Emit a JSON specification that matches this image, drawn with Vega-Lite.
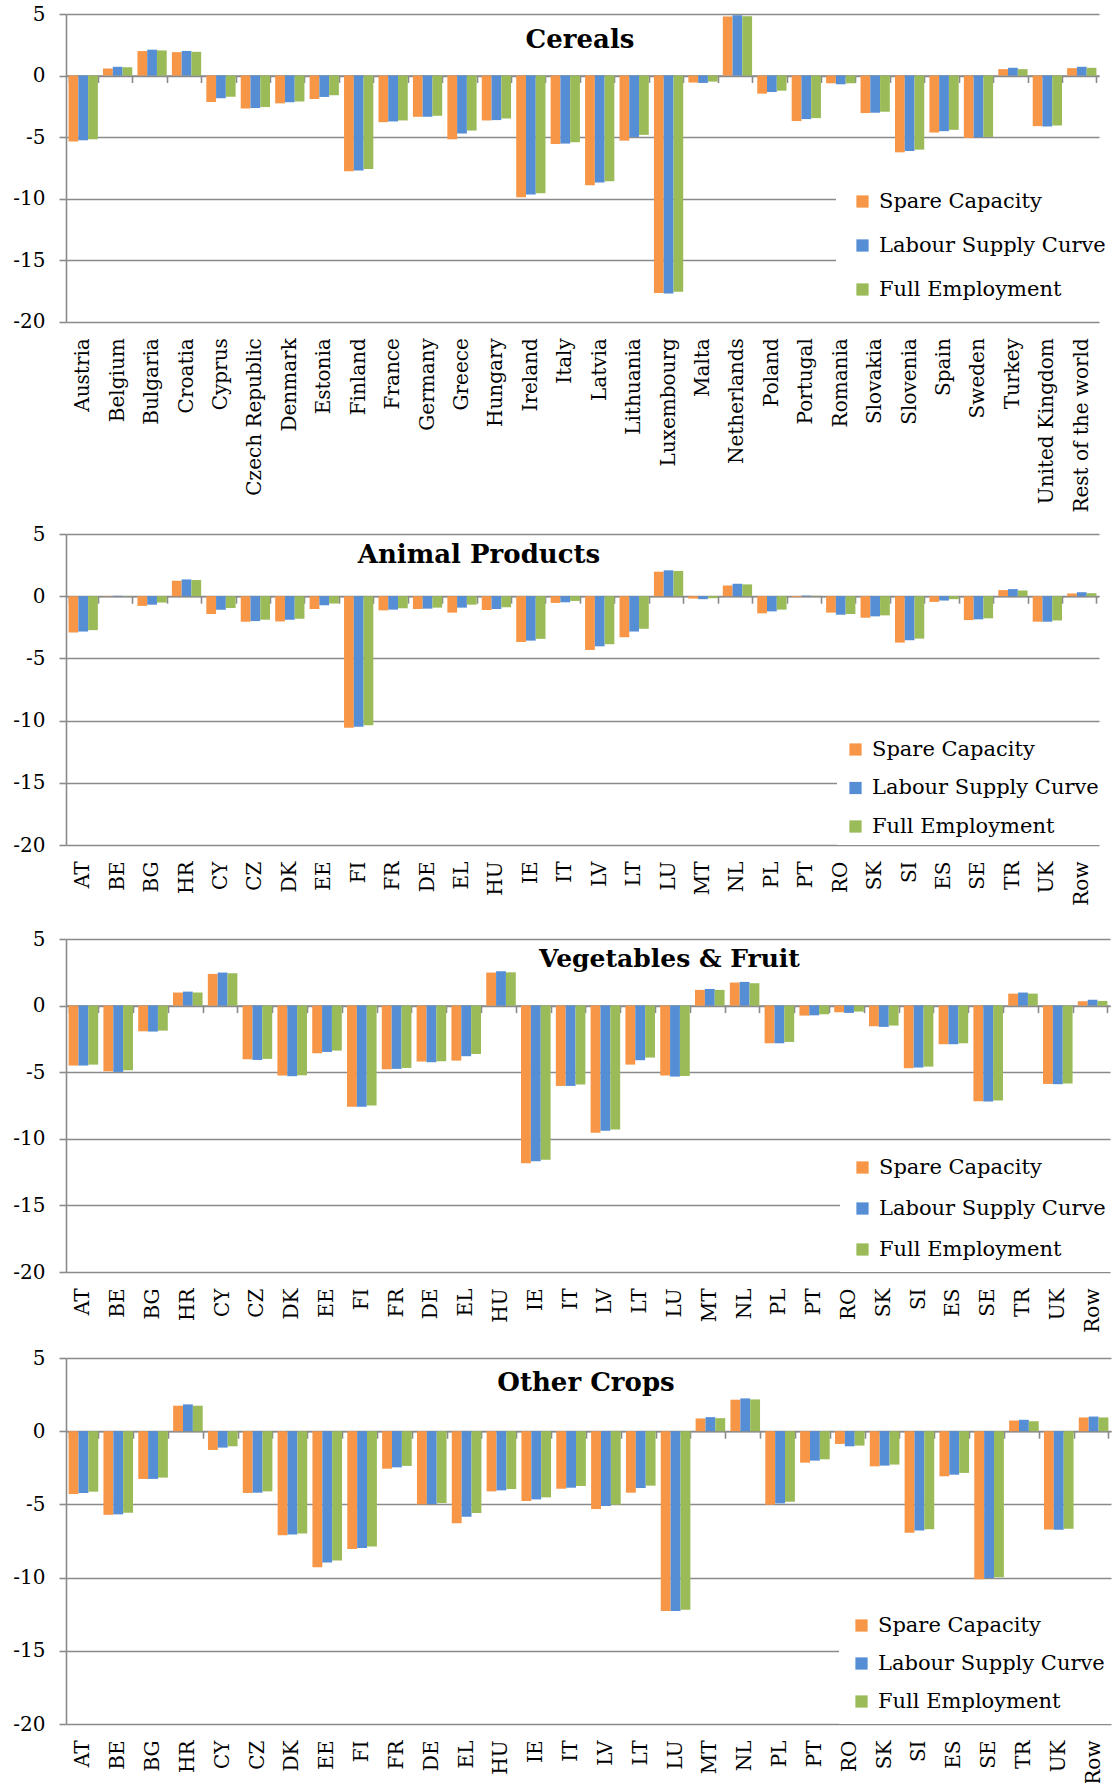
{
"$schema": "https://vega.github.io/schema/vega-lite/v6.json",
"background": "white",
"padding": {"left": 12, "top": 4, "right": 5, "bottom": 0},
"config": {
 "view": {"stroke": null},
 "font": "DejaVu Serif",
 "axis": {"labelFont": "DejaVu Serif", "labelColor": "black", "titleFont": "DejaVu Serif", "titleColor": "black"},
 "axisY": {"title": null, "grid": true, "gridColor": "#8a8a8a", "gridWidth": 1.6, "domain": true, "domainColor": "#8a8a8a", "domainWidth": 1.6, "ticks": true, "tickColor": "#8a8a8a", "tickWidth": 1.6, "tickSize": 7, "labelPadding": 14, "labelFontSize": 20},
 "legend": {"orient": "none", "direction": "vertical", "title": null, "fillColor": "white", "symbolType": "square", "symbolSize": 150, "symbolStrokeWidth": 0, "labelFontSize": 21, "labelOffset": 6, "labelFont": "DejaVu Serif", "labelColor": "black", "labelLimit": 400}
},
"datasets": {
"cereals": [
{"c":"Austria","s":"Spare Capacity","v":-5.35},{"c":"Austria","s":"Labour Supply Curve","v":-5.26},{"c":"Austria","s":"Full Employment","v":-5.18},
{"c":"Belgium","s":"Spare Capacity","v":0.57},{"c":"Belgium","s":"Labour Supply Curve","v":0.71},{"c":"Belgium","s":"Full Employment","v":0.68},
{"c":"Bulgaria","s":"Spare Capacity","v":1.99},{"c":"Bulgaria","s":"Labour Supply Curve","v":2.1},{"c":"Bulgaria","s":"Full Employment","v":2.04},
{"c":"Croatia","s":"Spare Capacity","v":1.9},{"c":"Croatia","s":"Labour Supply Curve","v":2.0},{"c":"Croatia","s":"Full Employment","v":1.93},
{"c":"Cyprus","s":"Spare Capacity","v":-2.15},{"c":"Cyprus","s":"Labour Supply Curve","v":-1.85},{"c":"Cyprus","s":"Full Employment","v":-1.72},
{"c":"Czech Republic","s":"Spare Capacity","v":-2.67},{"c":"Czech Republic","s":"Labour Supply Curve","v":-2.64},{"c":"Czech Republic","s":"Full Employment","v":-2.56},
{"c":"Denmark","s":"Spare Capacity","v":-2.26},{"c":"Denmark","s":"Labour Supply Curve","v":-2.18},{"c":"Denmark","s":"Full Employment","v":-2.1},
{"c":"Estonia","s":"Spare Capacity","v":-1.9},{"c":"Estonia","s":"Labour Supply Curve","v":-1.74},{"c":"Estonia","s":"Full Employment","v":-1.6},
{"c":"Finland","s":"Spare Capacity","v":-7.77},{"c":"Finland","s":"Labour Supply Curve","v":-7.71},{"c":"Finland","s":"Full Employment","v":-7.6},
{"c":"France","s":"Spare Capacity","v":-3.79},{"c":"France","s":"Labour Supply Curve","v":-3.73},{"c":"France","s":"Full Employment","v":-3.65},
{"c":"Germany","s":"Spare Capacity","v":-3.35},{"c":"Germany","s":"Labour Supply Curve","v":-3.35},{"c":"Germany","s":"Full Employment","v":-3.27},
{"c":"Greece","s":"Spare Capacity","v":-5.18},{"c":"Greece","s":"Labour Supply Curve","v":-4.71},{"c":"Greece","s":"Full Employment","v":-4.47},
{"c":"Hungary","s":"Spare Capacity","v":-3.65},{"c":"Hungary","s":"Labour Supply Curve","v":-3.62},{"c":"Hungary","s":"Full Employment","v":-3.49},
{"c":"Ireland","s":"Spare Capacity","v":-9.89},{"c":"Ireland","s":"Labour Supply Curve","v":-9.67},{"c":"Ireland","s":"Full Employment","v":-9.56},
{"c":"Italy","s":"Spare Capacity","v":-5.56},{"c":"Italy","s":"Labour Supply Curve","v":-5.53},{"c":"Italy","s":"Full Employment","v":-5.42},
{"c":"Latvia","s":"Spare Capacity","v":-8.91},{"c":"Latvia","s":"Labour Supply Curve","v":-8.69},{"c":"Latvia","s":"Full Employment","v":-8.58},
{"c":"Lithuania","s":"Spare Capacity","v":-5.29},{"c":"Lithuania","s":"Labour Supply Curve","v":-4.99},{"c":"Lithuania","s":"Full Employment","v":-4.82},
{"c":"Luxembourg","s":"Spare Capacity","v":-17.66},{"c":"Luxembourg","s":"Labour Supply Curve","v":-17.71},{"c":"Luxembourg","s":"Full Employment","v":-17.57},
{"c":"Malta","s":"Spare Capacity","v":-0.57},{"c":"Malta","s":"Labour Supply Curve","v":-0.6},{"c":"Malta","s":"Full Employment","v":-0.49},
{"c":"Netherlands","s":"Spare Capacity","v":4.8},{"c":"Netherlands","s":"Labour Supply Curve","v":4.9},{"c":"Netherlands","s":"Full Employment","v":4.82},
{"c":"Poland","s":"Spare Capacity","v":-1.47},{"c":"Poland","s":"Labour Supply Curve","v":-1.34},{"c":"Poland","s":"Full Employment","v":-1.23},
{"c":"Portugal","s":"Spare Capacity","v":-3.7},{"c":"Portugal","s":"Labour Supply Curve","v":-3.54},{"c":"Portugal","s":"Full Employment","v":-3.46},
{"c":"Romania","s":"Spare Capacity","v":-0.63},{"c":"Romania","s":"Labour Supply Curve","v":-0.71},{"c":"Romania","s":"Full Employment","v":-0.63},
{"c":"Slovakia","s":"Spare Capacity","v":-3.05},{"c":"Slovakia","s":"Labour Supply Curve","v":-3.02},{"c":"Slovakia","s":"Full Employment","v":-2.94},
{"c":"Slovenia","s":"Spare Capacity","v":-6.24},{"c":"Slovenia","s":"Labour Supply Curve","v":-6.13},{"c":"Slovenia","s":"Full Employment","v":-6.02},
{"c":"Spain","s":"Spare Capacity","v":-4.63},{"c":"Spain","s":"Labour Supply Curve","v":-4.52},{"c":"Spain","s":"Full Employment","v":-4.41},
{"c":"Sweden","s":"Spare Capacity","v":-5.07},{"c":"Sweden","s":"Labour Supply Curve","v":-5.01},{"c":"Sweden","s":"Full Employment","v":-4.99},
{"c":"Turkey","s":"Spare Capacity","v":0.52},{"c":"Turkey","s":"Labour Supply Curve","v":0.63},{"c":"Turkey","s":"Full Employment","v":0.52},
{"c":"United Kingdom","s":"Spare Capacity","v":-4.11},{"c":"United Kingdom","s":"Labour Supply Curve","v":-4.14},{"c":"United Kingdom","s":"Full Employment","v":-4.06},
{"c":"Rest of the world","s":"Spare Capacity","v":0.6},{"c":"Rest of the world","s":"Labour Supply Curve","v":0.71},{"c":"Rest of the world","s":"Full Employment","v":0.63}
],
"animal": [
{"c":"AT","s":"Spare Capacity","v":-2.92},{"c":"AT","s":"Labour Supply Curve","v":-2.84},{"c":"AT","s":"Full Employment","v":-2.73},
{"c":"BE","s":"Spare Capacity","v":-0.02},{"c":"BE","s":"Labour Supply Curve","v":0.03},{"c":"BE","s":"Full Employment","v":-0.02},
{"c":"BG","s":"Spare Capacity","v":-0.78},{"c":"BG","s":"Labour Supply Curve","v":-0.68},{"c":"BG","s":"Full Employment","v":-0.51},
{"c":"HR","s":"Spare Capacity","v":1.24},{"c":"HR","s":"Labour Supply Curve","v":1.35},{"c":"HR","s":"Full Employment","v":1.3},
{"c":"CY","s":"Spare Capacity","v":-1.43},{"c":"CY","s":"Labour Supply Curve","v":-1.08},{"c":"CY","s":"Full Employment","v":-0.95},
{"c":"CZ","s":"Spare Capacity","v":-2.05},{"c":"CZ","s":"Labour Supply Curve","v":-2.0},{"c":"CZ","s":"Full Employment","v":-1.89},
{"c":"DK","s":"Spare Capacity","v":-2.03},{"c":"DK","s":"Labour Supply Curve","v":-1.89},{"c":"DK","s":"Full Employment","v":-1.81},
{"c":"EE","s":"Spare Capacity","v":-1.03},{"c":"EE","s":"Labour Supply Curve","v":-0.73},{"c":"EE","s":"Full Employment","v":-0.59},
{"c":"FI","s":"Spare Capacity","v":-10.57},{"c":"FI","s":"Labour Supply Curve","v":-10.49},{"c":"FI","s":"Full Employment","v":-10.38},
{"c":"FR","s":"Spare Capacity","v":-1.14},{"c":"FR","s":"Labour Supply Curve","v":-1.08},{"c":"FR","s":"Full Employment","v":-0.97},
{"c":"DE","s":"Spare Capacity","v":-1.03},{"c":"DE","s":"Labour Supply Curve","v":-1.0},{"c":"DE","s":"Full Employment","v":-0.92},
{"c":"EL","s":"Spare Capacity","v":-1.32},{"c":"EL","s":"Labour Supply Curve","v":-0.92},{"c":"EL","s":"Full Employment","v":-0.68},
{"c":"HU","s":"Spare Capacity","v":-1.11},{"c":"HU","s":"Labour Supply Curve","v":-1.03},{"c":"HU","s":"Full Employment","v":-0.89},
{"c":"IE","s":"Spare Capacity","v":-3.68},{"c":"IE","s":"Labour Supply Curve","v":-3.57},{"c":"IE","s":"Full Employment","v":-3.43},
{"c":"IT","s":"Spare Capacity","v":-0.54},{"c":"IT","s":"Labour Supply Curve","v":-0.49},{"c":"IT","s":"Full Employment","v":-0.38},
{"c":"LV","s":"Spare Capacity","v":-4.32},{"c":"LV","s":"Labour Supply Curve","v":-4.03},{"c":"LV","s":"Full Employment","v":-3.86},
{"c":"LT","s":"Spare Capacity","v":-3.3},{"c":"LT","s":"Labour Supply Curve","v":-2.84},{"c":"LT","s":"Full Employment","v":-2.62},
{"c":"LU","s":"Spare Capacity","v":1.97},{"c":"LU","s":"Labour Supply Curve","v":2.08},{"c":"LU","s":"Full Employment","v":2.03},
{"c":"MT","s":"Spare Capacity","v":-0.19},{"c":"MT","s":"Labour Supply Curve","v":-0.24},{"c":"MT","s":"Full Employment","v":-0.16},
{"c":"NL","s":"Spare Capacity","v":0.86},{"c":"NL","s":"Labour Supply Curve","v":1.0},{"c":"NL","s":"Full Employment","v":0.95},
{"c":"PL","s":"Spare Capacity","v":-1.38},{"c":"PL","s":"Labour Supply Curve","v":-1.22},{"c":"PL","s":"Full Employment","v":-1.08},
{"c":"PT","s":"Spare Capacity","v":-0.08},{"c":"PT","s":"Labour Supply Curve","v":0.05},{"c":"PT","s":"Full Employment","v":0.03},
{"c":"RO","s":"Spare Capacity","v":-1.32},{"c":"RO","s":"Labour Supply Curve","v":-1.49},{"c":"RO","s":"Full Employment","v":-1.43},
{"c":"SK","s":"Spare Capacity","v":-1.73},{"c":"SK","s":"Labour Supply Curve","v":-1.62},{"c":"SK","s":"Full Employment","v":-1.54},
{"c":"SI","s":"Spare Capacity","v":-3.73},{"c":"SI","s":"Labour Supply Curve","v":-3.54},{"c":"SI","s":"Full Employment","v":-3.41},
{"c":"ES","s":"Spare Capacity","v":-0.46},{"c":"ES","s":"Labour Supply Curve","v":-0.35},{"c":"ES","s":"Full Employment","v":-0.24},
{"c":"SE","s":"Spare Capacity","v":-1.92},{"c":"SE","s":"Labour Supply Curve","v":-1.86},{"c":"SE","s":"Full Employment","v":-1.78},
{"c":"TR","s":"Spare Capacity","v":0.49},{"c":"TR","s":"Labour Supply Curve","v":0.57},{"c":"TR","s":"Full Employment","v":0.46},
{"c":"UK","s":"Spare Capacity","v":-2.05},{"c":"UK","s":"Labour Supply Curve","v":-2.05},{"c":"UK","s":"Full Employment","v":-1.95},
{"c":"Row","s":"Spare Capacity","v":0.22},{"c":"Row","s":"Labour Supply Curve","v":0.32},{"c":"Row","s":"Full Employment","v":0.24}
],
"veg": [
{"c":"AT","s":"Spare Capacity","v":-4.5},{"c":"AT","s":"Labour Supply Curve","v":-4.5},{"c":"AT","s":"Full Employment","v":-4.43},
{"c":"BE","s":"Spare Capacity","v":-4.93},{"c":"BE","s":"Labour Supply Curve","v":-4.98},{"c":"BE","s":"Full Employment","v":-4.85},
{"c":"BG","s":"Spare Capacity","v":-1.93},{"c":"BG","s":"Labour Supply Curve","v":-1.95},{"c":"BG","s":"Full Employment","v":-1.88},
{"c":"HR","s":"Spare Capacity","v":0.98},{"c":"HR","s":"Labour Supply Curve","v":1.05},{"c":"HR","s":"Full Employment","v":0.98},
{"c":"CY","s":"Spare Capacity","v":2.38},{"c":"CY","s":"Labour Supply Curve","v":2.48},{"c":"CY","s":"Full Employment","v":2.43},
{"c":"CZ","s":"Spare Capacity","v":-4.03},{"c":"CZ","s":"Labour Supply Curve","v":-4.08},{"c":"CZ","s":"Full Employment","v":-4.0},
{"c":"DK","s":"Spare Capacity","v":-5.25},{"c":"DK","s":"Labour Supply Curve","v":-5.3},{"c":"DK","s":"Full Employment","v":-5.23},
{"c":"EE","s":"Spare Capacity","v":-3.58},{"c":"EE","s":"Labour Supply Curve","v":-3.48},{"c":"EE","s":"Full Employment","v":-3.38},
{"c":"FI","s":"Spare Capacity","v":-7.6},{"c":"FI","s":"Labour Supply Curve","v":-7.6},{"c":"FI","s":"Full Employment","v":-7.5},
{"c":"FR","s":"Spare Capacity","v":-4.78},{"c":"FR","s":"Labour Supply Curve","v":-4.75},{"c":"FR","s":"Full Employment","v":-4.68},
{"c":"DE","s":"Spare Capacity","v":-4.2},{"c":"DE","s":"Labour Supply Curve","v":-4.25},{"c":"DE","s":"Full Employment","v":-4.18},
{"c":"EL","s":"Spare Capacity","v":-4.13},{"c":"EL","s":"Labour Supply Curve","v":-3.8},{"c":"EL","s":"Full Employment","v":-3.63},
{"c":"HU","s":"Spare Capacity","v":2.48},{"c":"HU","s":"Labour Supply Curve","v":2.58},{"c":"HU","s":"Full Employment","v":2.5},
{"c":"IE","s":"Spare Capacity","v":-11.83},{"c":"IE","s":"Labour Supply Curve","v":-11.68},{"c":"IE","s":"Full Employment","v":-11.58},
{"c":"IT","s":"Spare Capacity","v":-6.03},{"c":"IT","s":"Labour Supply Curve","v":-6.03},{"c":"IT","s":"Full Employment","v":-5.93},
{"c":"LV","s":"Spare Capacity","v":-9.55},{"c":"LV","s":"Labour Supply Curve","v":-9.4},{"c":"LV","s":"Full Employment","v":-9.3},
{"c":"LT","s":"Spare Capacity","v":-4.43},{"c":"LT","s":"Labour Supply Curve","v":-4.1},{"c":"LT","s":"Full Employment","v":-3.9},
{"c":"LU","s":"Spare Capacity","v":-5.25},{"c":"LU","s":"Labour Supply Curve","v":-5.33},{"c":"LU","s":"Full Employment","v":-5.28},
{"c":"MT","s":"Spare Capacity","v":1.18},{"c":"MT","s":"Labour Supply Curve","v":1.25},{"c":"MT","s":"Full Employment","v":1.18},
{"c":"NL","s":"Spare Capacity","v":1.73},{"c":"NL","s":"Labour Supply Curve","v":1.78},{"c":"NL","s":"Full Employment","v":1.68},
{"c":"PL","s":"Spare Capacity","v":-2.83},{"c":"PL","s":"Labour Supply Curve","v":-2.83},{"c":"PL","s":"Full Employment","v":-2.73},
{"c":"PT","s":"Spare Capacity","v":-0.75},{"c":"PT","s":"Labour Supply Curve","v":-0.73},{"c":"PT","s":"Full Employment","v":-0.65},
{"c":"RO","s":"Spare Capacity","v":-0.5},{"c":"RO","s":"Labour Supply Curve","v":-0.55},{"c":"RO","s":"Full Employment","v":-0.45},
{"c":"SK","s":"Spare Capacity","v":-1.55},{"c":"SK","s":"Labour Supply Curve","v":-1.6},{"c":"SK","s":"Full Employment","v":-1.5},
{"c":"SI","s":"Spare Capacity","v":-4.7},{"c":"SI","s":"Labour Supply Curve","v":-4.65},{"c":"SI","s":"Full Employment","v":-4.58},
{"c":"ES","s":"Spare Capacity","v":-2.9},{"c":"ES","s":"Labour Supply Curve","v":-2.9},{"c":"ES","s":"Full Employment","v":-2.83},
{"c":"SE","s":"Spare Capacity","v":-7.18},{"c":"SE","s":"Labour Supply Curve","v":-7.2},{"c":"SE","s":"Full Employment","v":-7.13},
{"c":"TR","s":"Spare Capacity","v":0.9},{"c":"TR","s":"Labour Supply Curve","v":0.98},{"c":"TR","s":"Full Employment","v":0.9},
{"c":"UK","s":"Spare Capacity","v":-5.88},{"c":"UK","s":"Labour Supply Curve","v":-5.9},{"c":"UK","s":"Full Employment","v":-5.85},
{"c":"Row","s":"Spare Capacity","v":0.33},{"c":"Row","s":"Labour Supply Curve","v":0.43},{"c":"Row","s":"Full Employment","v":0.35}
],
"other": [
{"c":"AT","s":"Spare Capacity","v":-4.29},{"c":"AT","s":"Labour Supply Curve","v":-4.22},{"c":"AT","s":"Full Employment","v":-4.13},
{"c":"BE","s":"Spare Capacity","v":-5.71},{"c":"BE","s":"Labour Supply Curve","v":-5.68},{"c":"BE","s":"Full Employment","v":-5.57},
{"c":"BG","s":"Spare Capacity","v":-3.26},{"c":"BG","s":"Labour Supply Curve","v":-3.26},{"c":"BG","s":"Full Employment","v":-3.17},
{"c":"HR","s":"Spare Capacity","v":1.74},{"c":"HR","s":"Labour Supply Curve","v":1.83},{"c":"HR","s":"Full Employment","v":1.74},
{"c":"CY","s":"Spare Capacity","v":-1.28},{"c":"CY","s":"Labour Supply Curve","v":-1.12},{"c":"CY","s":"Full Employment","v":-1.03},
{"c":"CZ","s":"Spare Capacity","v":-4.22},{"c":"CZ","s":"Labour Supply Curve","v":-4.2},{"c":"CZ","s":"Full Employment","v":-4.11},
{"c":"DK","s":"Spare Capacity","v":-7.1},{"c":"DK","s":"Labour Supply Curve","v":-7.05},{"c":"DK","s":"Full Employment","v":-6.99},
{"c":"EE","s":"Spare Capacity","v":-9.29},{"c":"EE","s":"Labour Supply Curve","v":-8.97},{"c":"EE","s":"Full Employment","v":-8.84},
{"c":"FI","s":"Spare Capacity","v":-8.04},{"c":"FI","s":"Labour Supply Curve","v":-7.97},{"c":"FI","s":"Full Employment","v":-7.88},
{"c":"FR","s":"Spare Capacity","v":-2.56},{"c":"FR","s":"Labour Supply Curve","v":-2.47},{"c":"FR","s":"Full Employment","v":-2.37},
{"c":"DE","s":"Spare Capacity","v":-5.0},{"c":"DE","s":"Labour Supply Curve","v":-4.98},{"c":"DE","s":"Full Employment","v":-4.91},
{"c":"EL","s":"Spare Capacity","v":-6.28},{"c":"EL","s":"Labour Supply Curve","v":-5.84},{"c":"EL","s":"Full Employment","v":-5.59},
{"c":"HU","s":"Spare Capacity","v":-4.11},{"c":"HU","s":"Labour Supply Curve","v":-4.04},{"c":"HU","s":"Full Employment","v":-3.95},
{"c":"IE","s":"Spare Capacity","v":-4.77},{"c":"IE","s":"Labour Supply Curve","v":-4.66},{"c":"IE","s":"Full Employment","v":-4.52},
{"c":"IT","s":"Spare Capacity","v":-3.93},{"c":"IT","s":"Labour Supply Curve","v":-3.86},{"c":"IT","s":"Full Employment","v":-3.74},
{"c":"LV","s":"Spare Capacity","v":-5.32},{"c":"LV","s":"Labour Supply Curve","v":-5.11},{"c":"LV","s":"Full Employment","v":-5.02},
{"c":"LT","s":"Spare Capacity","v":-4.2},{"c":"LT","s":"Labour Supply Curve","v":-3.88},{"c":"LT","s":"Full Employment","v":-3.72},
{"c":"LU","s":"Spare Capacity","v":-12.28},{"c":"LU","s":"Labour Supply Curve","v":-12.28},{"c":"LU","s":"Full Employment","v":-12.19},
{"c":"MT","s":"Spare Capacity","v":0.87},{"c":"MT","s":"Labour Supply Curve","v":0.96},{"c":"MT","s":"Full Employment","v":0.89},
{"c":"NL","s":"Spare Capacity","v":2.15},{"c":"NL","s":"Labour Supply Curve","v":2.24},{"c":"NL","s":"Full Employment","v":2.17},
{"c":"PL","s":"Spare Capacity","v":-5.02},{"c":"PL","s":"Labour Supply Curve","v":-4.93},{"c":"PL","s":"Full Employment","v":-4.82},
{"c":"PT","s":"Spare Capacity","v":-2.15},{"c":"PT","s":"Labour Supply Curve","v":-2.01},{"c":"PT","s":"Full Employment","v":-1.92},
{"c":"RO","s":"Spare Capacity","v":-0.87},{"c":"RO","s":"Labour Supply Curve","v":-1.03},{"c":"RO","s":"Full Employment","v":-0.98},
{"c":"SK","s":"Spare Capacity","v":-2.4},{"c":"SK","s":"Labour Supply Curve","v":-2.35},{"c":"SK","s":"Full Employment","v":-2.28},
{"c":"SI","s":"Spare Capacity","v":-6.94},{"c":"SI","s":"Labour Supply Curve","v":-6.78},{"c":"SI","s":"Full Employment","v":-6.69},
{"c":"ES","s":"Spare Capacity","v":-3.08},{"c":"ES","s":"Labour Supply Curve","v":-2.97},{"c":"ES","s":"Full Employment","v":-2.85},
{"c":"SE","s":"Spare Capacity","v":-10.11},{"c":"SE","s":"Labour Supply Curve","v":-10.02},{"c":"SE","s":"Full Employment","v":-9.98},
{"c":"TR","s":"Spare Capacity","v":0.73},{"c":"TR","s":"Labour Supply Curve","v":0.78},{"c":"TR","s":"Full Employment","v":0.68},
{"c":"UK","s":"Spare Capacity","v":-6.71},{"c":"UK","s":"Labour Supply Curve","v":-6.74},{"c":"UK","s":"Full Employment","v":-6.67},
{"c":"Row","s":"Spare Capacity","v":0.94},{"c":"Row","s":"Labour Supply Curve","v":1.0},{"c":"Row","s":"Full Employment","v":0.94}
]
},
"spacing": 0,
"resolve": {"scale": {"x": "independent", "y": "independent", "color": "independent", "xOffset": "independent"}, "legend": {"color": "independent"}},
"vconcat": [
{
 "width": 1033, "height": 307.7,
 "data": {"name": "cereals"},
 "layer": [
  {"mark": {"type": "bar"},
   "encoding": {
    "x": {"field": "c", "type": "nominal", "sort": null,
      "scale": {"domain": ["Austria","Belgium","Bulgaria","Croatia","Cyprus","Czech Republic","Denmark","Estonia","Finland","France","Germany","Greece","Hungary","Ireland","Italy","Latvia","Lithuania","Luxembourg","Malta","Netherlands","Poland","Portugal","Romania","Slovakia","Slovenia","Spain","Sweden","Turkey","United Kingdom","Rest of the world"], "paddingInner": 0.15, "paddingOuter": 0.075},
      "axis": {"orient": "bottom", "title": null, "labelAngle": -90, "labelPadding": 16, "ticks": false, "domain": false, "grid": false, "labelFontSize": 20, "labelLimit": 300, "labelOverlap": false, "minExtent": 202, "maxExtent": 202}},
    "xOffset": {"field": "s", "type": "nominal", "sort": null, "scale": {"domain": ["Spare Capacity","Labour Supply Curve","Full Employment"], "paddingInner": 0, "paddingOuter": 0}},
    "y": {"field": "v", "type": "quantitative", "stack": null, "scale": {"domain": [-20, 5], "nice": false, "zero": false}, "axis": {"values": [-20,-15,-10,-5,0,5], "labelExpr": "'' + datum.value"}},
    "color": {"field": "s", "type": "nominal", "sort": null, "scale": {"domain": ["Spare Capacity","Labour Supply Curve","Full Employment"], "range": ["#F79646","#558ED5","#9BBB59"]},
      "legend": {"legendX": 770, "legendY": 161, "padding": 16, "rowPadding": 22}}
   }},
  {"mark": {"type": "bar", "opacity": 0},
   "encoding": {
    "x": {"field": "c", "type": "nominal", "sort": null,
      "axis": {"orient": "bottom", "offset": -246.2, "labels": false, "ticks": true, "tickBand": "extent", "tickSize": 7, "tickColor": "#8a8a8a", "tickWidth": 1.6, "domain": true, "domainColor": "#8a8a8a", "domainWidth": 1.6, "grid": false,
        "title": "Cereals", "titleX": 513.5, "titleY": -28.5, "titleAlign": "center", "titleBaseline": "alphabetic", "titleAngle": 0, "titleFontSize": 26, "titleFontWeight": "bold"}},
    "y": {"field": "v", "type": "quantitative", "stack": null}
   }}
 ],
 "resolve": {"axis": {"x": "independent"}}
},
{
 "width": 1033, "height": 311,
 "data": {"name": "animal"},
 "layer": [
  {"mark": {"type": "bar"},
   "encoding": {
    "x": {"field": "c", "type": "nominal", "sort": null,
      "scale": {"domain": ["AT","BE","BG","HR","CY","CZ","DK","EE","FI","FR","DE","EL","HU","IE","IT","LV","LT","LU","MT","NL","PL","PT","RO","SK","SI","ES","SE","TR","UK","Row"], "paddingInner": 0.15, "paddingOuter": 0.075},
      "axis": {"orient": "bottom", "title": null, "labelAngle": -90, "labelPadding": 16, "ticks": false, "domain": false, "grid": false, "labelFontSize": 20, "labelLimit": 300, "labelOverlap": false, "minExtent": 84, "maxExtent": 84}},
    "xOffset": {"field": "s", "type": "nominal", "sort": null, "scale": {"domain": ["Spare Capacity","Labour Supply Curve","Full Employment"], "paddingInner": 0, "paddingOuter": 0}},
    "y": {"field": "v", "type": "quantitative", "stack": null, "scale": {"domain": [-20, 5], "nice": false, "zero": false}, "axis": {"values": [-20,-15,-10,-5,0,5], "labelExpr": "'' + datum.value"}},
    "color": {"field": "s", "type": "nominal", "sort": null, "scale": {"domain": ["Spare Capacity","Labour Supply Curve","Full Employment"], "range": ["#F79646","#558ED5","#9BBB59"]},
      "legend": {"legendX": 771, "legendY": 197, "padding": 8, "rowPadding": 16.5}}
   }},
  {"mark": {"type": "bar", "opacity": 0},
   "encoding": {
    "x": {"field": "c", "type": "nominal", "sort": null,
      "axis": {"orient": "bottom", "offset": -248.8, "labels": false, "ticks": true, "tickBand": "extent", "tickSize": 7, "tickColor": "#8a8a8a", "tickWidth": 1.6, "domain": true, "domainColor": "#8a8a8a", "domainWidth": 1.6, "grid": false,
        "title": "Animal Products", "titleX": 412.5, "titleY": -33.5, "titleAlign": "center", "titleBaseline": "alphabetic", "titleAngle": 0, "titleFontSize": 26, "titleFontWeight": "bold"}},
    "y": {"field": "v", "type": "quantitative", "stack": null}
   }}
 ],
 "resolve": {"axis": {"x": "independent"}}
},
{
 "width": 1044, "height": 333,
 "data": {"name": "veg"},
 "layer": [
  {"mark": {"type": "bar"},
   "encoding": {
    "x": {"field": "c", "type": "nominal", "sort": null,
      "scale": {"domain": ["AT","BE","BG","HR","CY","CZ","DK","EE","FI","FR","DE","EL","HU","IE","IT","LV","LT","LU","MT","NL","PL","PT","RO","SK","SI","ES","SE","TR","UK","Row"], "paddingInner": 0.15, "paddingOuter": 0.075},
      "axis": {"orient": "bottom", "title": null, "labelAngle": -90, "labelPadding": 16, "ticks": false, "domain": false, "grid": false, "labelFontSize": 20, "labelLimit": 300, "labelOverlap": false, "minExtent": 76, "maxExtent": 76}},
    "xOffset": {"field": "s", "type": "nominal", "sort": null, "scale": {"domain": ["Spare Capacity","Labour Supply Curve","Full Employment"], "paddingInner": 0, "paddingOuter": 0}},
    "y": {"field": "v", "type": "quantitative", "stack": null, "scale": {"domain": [-20, 5], "nice": false, "zero": false}, "axis": {"values": [-20,-15,-10,-5,0,5], "labelExpr": "'' + datum.value"}},
    "color": {"field": "s", "type": "nominal", "sort": null, "scale": {"domain": ["Spare Capacity","Labour Supply Curve","Full Employment"], "range": ["#F79646","#558ED5","#9BBB59"]},
      "legend": {"legendX": 774, "legendY": 206, "padding": 12, "rowPadding": 19}}
   }},
  {"mark": {"type": "bar", "opacity": 0},
   "encoding": {
    "x": {"field": "c", "type": "nominal", "sort": null,
      "axis": {"orient": "bottom", "offset": -266.4, "labels": false, "ticks": true, "tickBand": "extent", "tickSize": 7, "tickColor": "#8a8a8a", "tickWidth": 1.6, "domain": true, "domainColor": "#8a8a8a", "domainWidth": 1.6, "grid": false,
        "title": "Vegetables & Fruit", "titleX": 603, "titleY": -38.9, "titleAlign": "center", "titleBaseline": "alphabetic", "titleAngle": 0, "titleFontSize": 25, "titleFontWeight": "bold"}},
    "y": {"field": "v", "type": "quantitative", "stack": null}
   }}
 ],
 "resolve": {"axis": {"x": "independent"}}
},
{
 "width": 1045, "height": 366,
 "data": {"name": "other"},
 "layer": [
  {"mark": {"type": "bar"},
   "encoding": {
    "x": {"field": "c", "type": "nominal", "sort": null,
      "scale": {"domain": ["AT","BE","BG","HR","CY","CZ","DK","EE","FI","FR","DE","EL","HU","IE","IT","LV","LT","LU","MT","NL","PL","PT","RO","SK","SI","ES","SE","TR","UK","Row"], "paddingInner": 0.15, "paddingOuter": 0.075},
      "axis": {"orient": "bottom", "title": null, "labelAngle": -90, "labelPadding": 16, "ticks": false, "domain": false, "grid": false, "labelFontSize": 20, "labelLimit": 300, "labelOverlap": false}},
    "xOffset": {"field": "s", "type": "nominal", "sort": null, "scale": {"domain": ["Spare Capacity","Labour Supply Curve","Full Employment"], "paddingInner": 0, "paddingOuter": 0}},
    "y": {"field": "v", "type": "quantitative", "stack": null, "scale": {"domain": [-20, 5], "nice": false, "zero": false}, "axis": {"values": [-20,-15,-10,-5,0,5], "labelExpr": "'' + datum.value"}},
    "color": {"field": "s", "type": "nominal", "sort": null, "scale": {"domain": ["Spare Capacity","Labour Supply Curve","Full Employment"], "range": ["#F79646","#558ED5","#9BBB59"]},
      "legend": {"legendX": 773, "legendY": 245, "padding": 12, "rowPadding": 16}}
   }},
  {"mark": {"type": "bar", "opacity": 0},
   "encoding": {
    "x": {"field": "c", "type": "nominal", "sort": null,
      "axis": {"orient": "bottom", "offset": -292.8, "labels": false, "ticks": true, "tickBand": "extent", "tickSize": 7, "tickColor": "#8a8a8a", "tickWidth": 1.6, "domain": true, "domainColor": "#8a8a8a", "domainWidth": 1.6, "grid": false,
        "title": "Other Crops", "titleX": 519.5, "titleY": -41.2, "titleAlign": "center", "titleBaseline": "alphabetic", "titleAngle": 0, "titleFontSize": 26, "titleFontWeight": "bold"}},
    "y": {"field": "v", "type": "quantitative", "stack": null}
   }}
 ],
 "resolve": {"axis": {"x": "independent"}}
}
]
}
